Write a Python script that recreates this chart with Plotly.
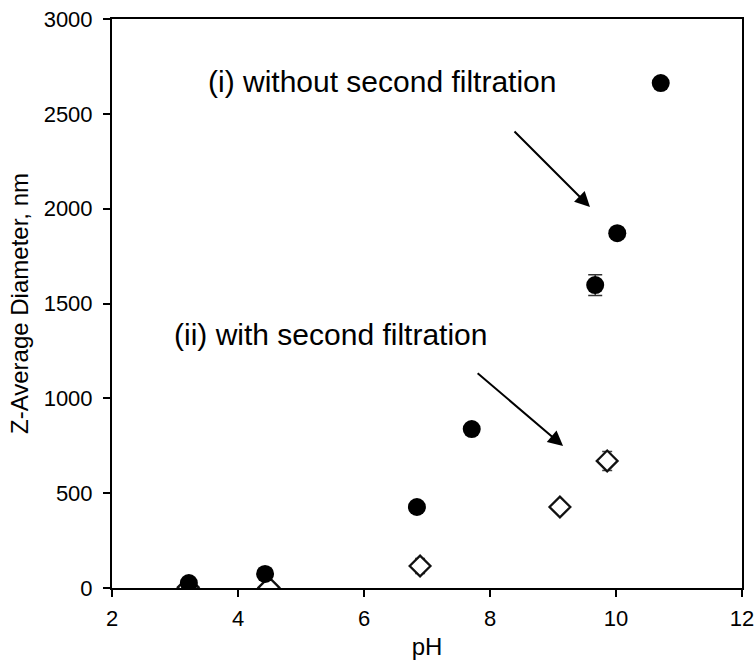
import plotly.graph_objects as go

# Measurements: pH vs Z-average diameter (nm)
ph_without = [3.22, 4.43, 6.84, 7.71, 9.67, 10.02, 10.71]
dia_without = [26, 74, 427, 838, 1597, 1871, 2662]
err_without = [5, 8, 10, 10, 55, 10, 10]

ph_with = [3.21, 4.49, 6.89, 9.11, 9.86]
dia_with = [4, 2, 116, 427, 670]
err_with = [3, 3, 40, 15, 50]

x_ticks = [2, 4, 6, 8, 10, 12]
y_ticks = [0, 500, 1000, 1500, 2000, 2500, 3000]

FONT = "Liberation Sans, Arial, sans-serif"

fig = go.Figure()

# Second-filtration series first so the filled circles sit on top
fig.add_trace(go.Scatter(
    x=ph_with, y=dia_with, mode="markers",
    marker=dict(symbol="diamond", size=16, color="white",
                line=dict(color="#111111", width=2.3)),
    error_y=dict(type="data", array=err_with, color="#444444",
                 thickness=1.5, width=5),
    showlegend=False,
))

fig.add_trace(go.Scatter(
    x=ph_without, y=dia_without, mode="markers",
    marker=dict(symbol="circle", size=18, color="black"),
    error_y=dict(type="data", array=err_without, color="#333333",
                 thickness=1.5, width=7),
    showlegend=False,
))

# Labels
fig.add_annotation(x=6.30, y=2668, text="(i) without second filtration",
                   showarrow=False, font=dict(size=30, color="black", family=FONT))
fig.add_annotation(x=5.476, y=1334, text="(ii) with second filtration",
                   showarrow=False, font=dict(size=30, color="black", family=FONT))

# Arrows pointing to each series
fig.add_annotation(x=9.587, y=2009, ax=8.365, ay=2415, xref="x", yref="y",
                   axref="x", ayref="y", text="", showarrow=True,
                   arrowhead=2, arrowsize=1.5, arrowwidth=2, arrowcolor="black")
fig.add_annotation(x=9.16, y=749, ax=7.78, ay=1139, xref="x", yref="y",
                   axref="x", ayref="y", text="", showarrow=True,
                   arrowhead=2, arrowsize=1.5, arrowwidth=2, arrowcolor="black")

axis_common = dict(
    showgrid=False, zeroline=False, showline=True, linecolor="black",
    linewidth=2, mirror=True, ticks="outside", ticklen=7, tickwidth=2,
    tickcolor="black", tickfont=dict(size=22, color="black", family=FONT),
    automargin=False,
)

fig.update_xaxes(range=[2, 12], tickvals=x_ticks, ticklabelstandoff=3,
                 title=dict(text="pH", font=dict(size=24, color="black", family=FONT),
                            standoff=8),
                 **axis_common)
fig.update_yaxes(range=[0, 3000], tickvals=y_ticks, ticklabelstandoff=6,
                 title=dict(text="Z-Average Diameter, nm",
                            font=dict(size=24, color="black", family=FONT),
                            standoff=8),
                 **axis_common)

fig.update_layout(
    width=756, height=666,
    margin=dict(l=112, r=14, t=19, b=78),
    plot_bgcolor="white", paper_bgcolor="white",
    font=dict(family=FONT, color="black"),
)

fig.write_html("out.html")
